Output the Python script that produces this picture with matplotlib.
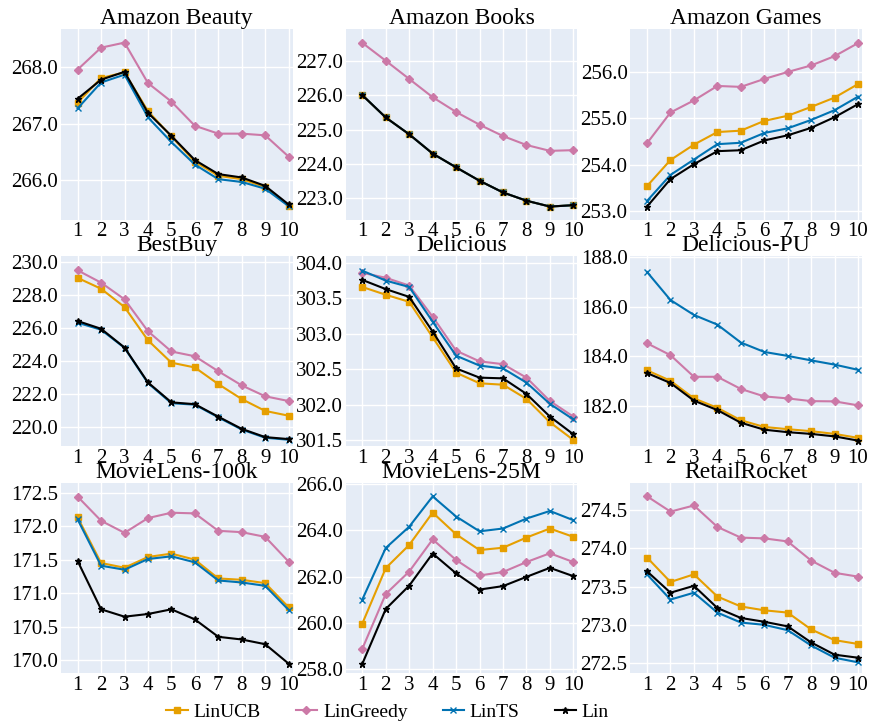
import matplotlib
matplotlib.use("Agg")
import matplotlib.pyplot as plt
from matplotlib.ticker import FormatStrFormatter, MultipleLocator

plt.rcParams['font.family'] = ['Liberation Serif', 'DejaVu Serif']

steps = list(range(1, 11))
methods = ['LinUCB', 'LinGreedy', 'LinTS', 'Lin']
colors = ['#E69F00', '#CC79A7', '#0072B2', 'black']
markers = ['s', 'D', 'x', '*']

titles = ['Amazon Beauty', 'Amazon Books', 'Amazon Games',
          'BestBuy', 'Delicious', 'Delicious-PU',
          'MovieLens-100k', 'MovieLens-25M', 'RetailRocket']

# values per dataset: LinUCB, LinGreedy, LinTS, Lin
beauty_ucb = [267.37, 267.81, 267.91, 267.22, 266.77, 266.32, 266.07, 266.01, 265.87, 265.54]
beauty_greedy = [267.96, 268.35, 268.44, 267.72, 267.39, 266.96, 266.82, 266.82, 266.79, 266.41]
beauty_ts = [267.27, 267.73, 267.87, 267.11, 266.67, 266.27, 266.01, 265.96, 265.84, 265.53]
beauty_lin = [267.44, 267.78, 267.92, 267.19, 266.78, 266.35, 266.10, 266.04, 265.89, 265.56]

books_ucb = [226.0, 225.35, 224.86, 224.30, 223.90, 223.51, 223.17, 222.93, 222.76, 222.80]
books_greedy = [227.52, 227.0, 226.47, 225.94, 225.51, 225.14, 224.81, 224.55, 224.38, 224.40]
books_ts = [226.0, 225.35, 224.86, 224.30, 223.90, 223.51, 223.17, 222.93, 222.76, 222.80]
books_lin = [226.0, 225.35, 224.86, 224.30, 223.90, 223.51, 223.17, 222.93, 222.76, 222.80]

games_ucb = [253.54, 254.10, 254.43, 254.70, 254.73, 254.94, 255.05, 255.24, 255.44, 255.73]
games_greedy = [254.46, 255.12, 255.38, 255.69, 255.67, 255.84, 255.99, 256.13, 256.33, 256.61]
games_ts = [253.22, 253.78, 254.11, 254.44, 254.47, 254.68, 254.78, 254.96, 255.17, 255.46]
games_lin = [253.10, 253.69, 254.01, 254.29, 254.31, 254.52, 254.63, 254.79, 255.02, 255.30]

bestbuy_ucb = [229.05, 228.39, 227.28, 225.26, 223.90, 223.61, 222.60, 221.69, 220.97, 220.68]
bestbuy_greedy = [229.51, 228.76, 227.75, 225.81, 224.58, 224.29, 223.38, 222.52, 221.86, 221.57]
bestbuy_ts = [226.33, 225.90, 224.80, 222.66, 221.44, 221.35, 220.58, 219.84, 219.34, 219.22]
bestbuy_lin = [226.43, 225.96, 224.82, 222.70, 221.49, 221.38, 220.62, 219.88, 219.38, 219.26]

delicious_ucb = [303.66, 303.55, 303.45, 302.95, 302.45, 302.30, 302.28, 302.08, 301.75, 301.50]
delicious_greedy = [303.86, 303.79, 303.68, 303.24, 302.76, 302.61, 302.57, 302.38, 302.05, 301.83]
delicious_ts = [303.89, 303.75, 303.66, 303.17, 302.69, 302.55, 302.51, 302.31, 302.01, 301.79]
delicious_lin = [303.76, 303.63, 303.52, 303.03, 302.51, 302.38, 302.37, 302.15, 301.83, 301.58]

delpu_ucb = [183.44, 183.02, 182.31, 181.93, 181.43, 181.16, 181.07, 180.99, 180.88, 180.72]
delpu_greedy = [184.53, 184.05, 183.18, 183.18, 182.69, 182.39, 182.31, 182.20, 182.19, 182.03]
delpu_ts = [187.40, 186.27, 185.67, 185.28, 184.56, 184.18, 184.02, 183.84, 183.67, 183.46]
delpu_lin = [183.33, 182.93, 182.22, 181.84, 181.33, 181.05, 180.95, 180.88, 180.78, 180.61]

ml100k_ucb = [172.13, 171.45, 171.38, 171.54, 171.59, 171.50, 171.22, 171.20, 171.15, 170.79]
ml100k_greedy = [172.44, 172.08, 171.90, 172.12, 172.20, 172.19, 171.93, 171.91, 171.84, 171.47]
ml100k_ts = [172.10, 171.41, 171.35, 171.51, 171.55, 171.46, 171.19, 171.16, 171.11, 170.75]
ml100k_lin = [171.48, 170.76, 170.65, 170.69, 170.76, 170.61, 170.35, 170.31, 170.24, 169.95]

ml25m_ucb = [259.97, 262.37, 263.37, 264.77, 263.83, 263.15, 263.25, 263.69, 264.08, 263.72]
ml25m_greedy = [258.88, 261.25, 262.22, 263.61, 262.72, 262.05, 262.20, 262.63, 263.01, 262.63]
ml25m_ts = [261.01, 263.24, 264.16, 265.47, 264.60, 263.96, 264.08, 264.51, 264.84, 264.44]
ml25m_lin = [258.23, 260.60, 261.61, 263.00, 262.14, 261.44, 261.59, 261.99, 262.38, 262.02]

retail_ucb = [273.88, 273.56, 273.66, 273.37, 273.24, 273.19, 273.16, 272.94, 272.80, 272.75]
retail_greedy = [274.68, 274.48, 274.56, 274.28, 274.14, 274.13, 274.09, 273.84, 273.68, 273.63]
retail_ts = [273.66, 273.33, 273.42, 273.16, 273.03, 273.00, 272.93, 272.73, 272.57, 272.51]
retail_lin = [273.70, 273.42, 273.51, 273.22, 273.09, 273.04, 272.98, 272.77, 272.61, 272.57]

panels = [
    [beauty_ucb, beauty_greedy, beauty_ts, beauty_lin],
    [books_ucb, books_greedy, books_ts, books_lin],
    [games_ucb, games_greedy, games_ts, games_lin],
    [bestbuy_ucb, bestbuy_greedy, bestbuy_ts, bestbuy_lin],
    [delicious_ucb, delicious_greedy, delicious_ts, delicious_lin],
    [delpu_ucb, delpu_greedy, delpu_ts, delpu_lin],
    [ml100k_ucb, ml100k_greedy, ml100k_ts, ml100k_lin],
    [ml25m_ucb, ml25m_greedy, ml25m_ts, ml25m_lin],
    [retail_ucb, retail_greedy, retail_ts, retail_lin],
]

# y ranges and tick steps
ylims = [(265.29, 268.68), (222.38, 227.92), (252.82, 256.91),
         (218.82, 230.39), (301.41, 304.10), (180.38, 188.05),
         (169.81, 172.65), (257.83, 266.07), (272.37, 274.86)]
ysteps = [1.0, 1.0, 1.0, 2.0, 0.5, 2.0, 0.5, 2.0, 0.5]

fig, axes = plt.subplots(3, 3, figsize=(8.71, 7.28), dpi=100)
fig.subplots_adjust(left=0.070, right=0.9897, top=0.960, bottom=0.0755,
                    wspace=0.229, hspace=0.19)

for i, ax in enumerate(axes.flat):
    ax.set_facecolor('#E5ECF6')
    for s in ax.spines.values():
        s.set_visible(False)
    for vals, name, c, m in zip(panels[i], methods, colors, markers):
        ax.plot(steps, vals, color=c, marker=m, markersize=4.5, linewidth=1.5,
                label=name)
    ax.set_xlim(0.29, 10.17)
    ax.set_ylim(*ylims[i])
    ax.set_xticks(steps)
    ax.yaxis.set_major_locator(MultipleLocator(ysteps[i]))
    ax.yaxis.set_major_formatter(FormatStrFormatter('%.1f'))
    ax.grid(True, color='white', linewidth=1.0)
    ax.set_axisbelow(True)
    ax.tick_params(length=0, labelsize=15, pad=2)
    ax.set_title(titles[i], fontsize=17, pad=2)

handles, labels = axes[0, 0].get_legend_handles_labels()
fig.legend(handles, labels, loc='lower center', ncol=4, frameon=False,
           fontsize=14, handlelength=1.1, handletextpad=0.3, columnspacing=1.8,
           bbox_to_anchor=(0.445, -0.014))

fig.savefig('out.png', dpi=100)
